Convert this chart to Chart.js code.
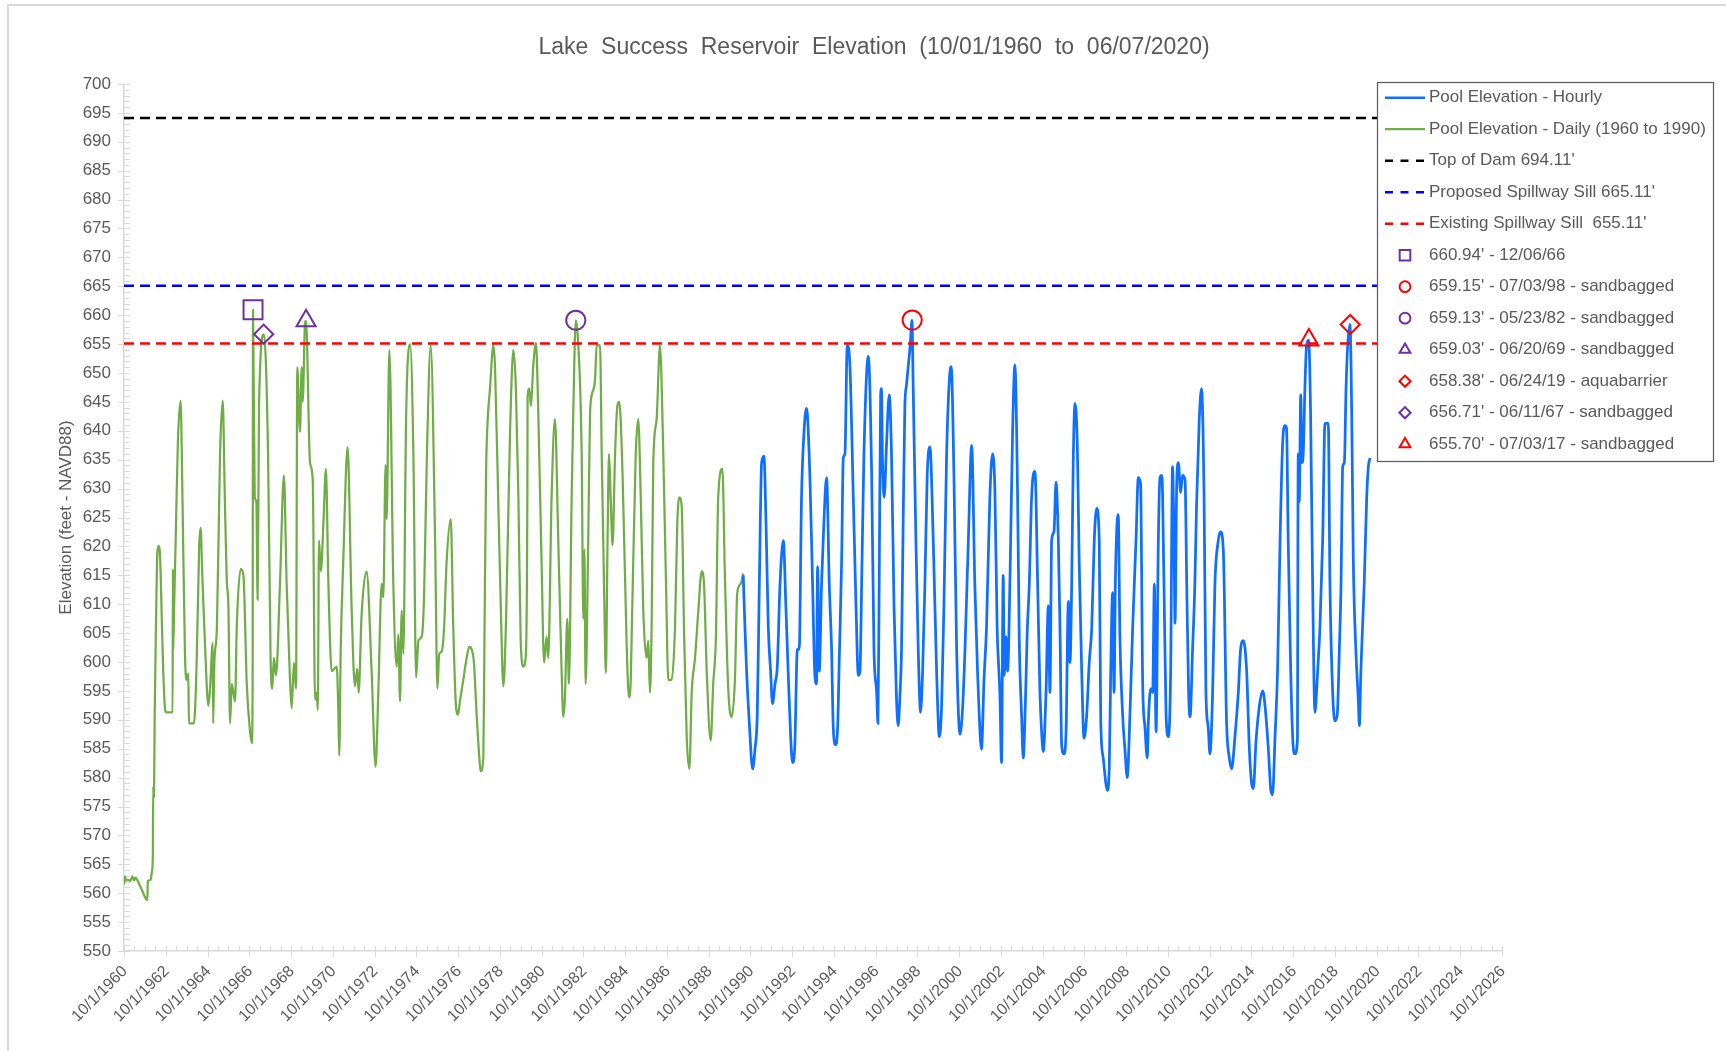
<!DOCTYPE html>
<html>
<head>
<meta charset="utf-8">
<title>Lake Success Reservoir Elevation</title>
<script src="https://cdn.jsdelivr.net/npm/chart.js@4.4.1/dist/chart.umd.min.js"></script>
<style>
  html, body { margin: 0; padding: 0; background: #fff; }
  #wrap { position: relative; width: 1726px; height: 1051px; overflow: hidden; }
  #frame { position: absolute; left: 7px; top: 4px; width: 1730px; height: 1060px; border: 2px solid #d9d9d9; pointer-events: none; }
  canvas { display: block; }
</style>
</head>
<body>
<div id="wrap">
  <canvas id="elevationChart" width="1726" height="1051"></canvas>
  <div id="frame"></div>
</div>
<script>
// x values are years since 10/1/1960 (first tick on the axis)
const START_YEAR = 1960;

// Daily record 1960 - 1990 (feet)
const dailyT = [
    0.00, 0.05, 0.10, 0.20, 0.30, 0.40, 0.48, 0.55, 0.65, 0.75,
    0.90, 1.05, 1.12, 1.14, 1.28, 1.33, 1.38, 1.40, 1.42, 1.44,
    1.47, 1.53, 1.60, 1.66, 1.73, 1.82, 1.88, 1.97, 2.05, 2.20,
    2.33, 2.34, 2.36, 2.40, 2.48, 2.58, 2.71, 2.80, 2.92, 3.00,
    3.08, 3.11, 3.25, 3.35, 3.48, 3.60, 3.67, 3.75, 3.88, 4.04,
    4.12, 4.25, 4.27, 4.33, 4.45, 4.60, 4.73, 4.82, 4.92, 5.00,
    5.08, 5.16, 5.32, 5.40, 5.59, 5.72, 5.88, 6.04, 6.12, 6.16,
    6.18, 6.26, 6.34, 6.40, 6.47, 6.70, 6.90, 7.02, 7.10, 7.18,
    7.28, 7.47, 7.66, 7.79, 7.95, 8.03, 8.14, 8.24, 8.30, 8.43,
    8.51, 8.56, 8.67, 8.72, 8.91, 9.04, 9.15, 9.23, 9.28, 9.34,
    9.43, 9.55, 9.67, 9.79, 9.95, 10.19, 10.27, 10.31, 10.38, 10.50,
    10.71, 10.90, 11.06, 11.17, 11.24, 11.38, 11.62, 11.86, 12.05, 12.18,
    12.34, 12.42, 12.53, 12.58, 12.71, 12.90, 13.06, 13.14, 13.22, 13.30,
    13.38, 13.51, 13.70, 13.86, 13.99, 14.10, 14.26, 14.37, 14.50, 14.69,
    14.90, 15.01, 15.10, 15.21, 15.33, 15.45, 15.65, 15.77, 15.90, 16.00,
    16.09, 16.25, 16.41, 16.54, 16.65, 16.76, 16.89, 17.02, 17.08, 17.21,
    17.26, 17.34, 17.40, 17.53, 17.69, 17.77, 17.93, 18.04, 18.17, 18.30,
    18.49, 18.65, 18.77, 18.89, 19.00, 19.13, 19.25, 19.32, 19.33, 19.41,
    19.49, 19.60, 19.73, 19.84, 20.00, 20.12, 20.24, 20.32, 20.48, 20.64,
    20.80, 20.96, 21.04, 21.12, 21.23, 21.31, 21.44, 21.52, 21.64, 21.76,
    21.92, 22.00, 22.05, 22.11, 22.24, 22.32, 22.43, 22.56, 22.64, 22.80,
    22.88, 22.99, 23.08, 23.16, 23.23, 23.31, 23.40, 23.52, 23.63, 23.72,
    23.88, 24.07, 24.15, 24.23, 24.35, 24.51, 24.63, 24.75, 24.87, 25.03,
    25.11, 25.19, 25.27, 25.35, 25.51, 25.67, 25.83, 25.96, 26.07, 26.23,
    26.39, 26.50, 26.60, 26.71, 26.82, 26.95, 27.08, 27.19, 27.35, 27.51,
    27.67, 27.78, 27.91, 28.10, 28.22, 28.35, 28.46, 28.66, 28.78, 28.94,
    29.10, 29.26, 29.37, 29.53, 29.66
];
const dailyElev = [
    561.5, 562.9, 562.2, 562.3, 562.1, 562.9, 562.2, 562.7, 562.2, 561.4,
    560.2, 559.0, 558.8, 562.1, 562.3, 563.6, 566.1, 578.5, 576.5, 578.0,
    590.9, 606.0, 619.1, 620.1, 618.0, 606.0, 598.4, 591.7, 591.3, 591.3,
    591.3, 616.1, 602.2, 609.3, 622.0, 638.0, 645.2, 628.5, 601.4, 596.9,
    598.0, 589.4, 589.4, 589.4, 599.9, 620.0, 623.2, 615.0, 603.0, 592.4,
    595.4, 603.3, 589.4, 600.0, 606.0, 636.0, 645.2, 630.0, 614.2, 609.7,
    589.4, 596.2, 593.2, 606.0, 616.1, 615.0, 596.2, 587.9, 586.0, 595.0,
    660.9, 628.5, 627.8, 610.8, 645.0, 656.7, 636.0, 600.7, 595.4, 600.7,
    597.7, 613.5, 632.3, 613.5, 596.9, 592.0, 599.9, 595.4, 651.0, 639.8,
    651.0, 645.0, 658.6, 659.0, 634.5, 631.5, 593.5, 594.7, 591.7, 621.0,
    615.7, 624.0, 633.4, 613.5, 598.4, 599.2, 590.9, 583.8, 602.2, 617.2,
    637.2, 609.7, 595.8, 598.8, 594.7, 608.2, 615.7, 598.4, 581.9, 594.7,
    613.5, 611.2, 634.1, 624.7, 654.0, 613.5, 599.2, 604.8, 593.2, 608.9,
    601.4, 642.0, 655.0, 636.0, 597.3, 603.7, 604.4, 611.2, 634.5, 654.8,
    621.0, 595.4, 601.4, 601.8, 605.9, 617.2, 624.7, 606.0, 592.4, 590.9,
    593.2, 596.9, 600.7, 602.6, 602.2, 599.9, 590.9, 583.4, 581.1, 583.4,
    602.2, 632.3, 640.5, 647.3, 654.8, 651.1, 627.0, 610.5, 595.8, 607.5,
    639.8, 654.0, 647.3, 628.5, 603.7, 599.2, 601.4, 630.0, 645.8, 647.3,
    644.3, 651.1, 655.2, 643.5, 617.2, 599.9, 604.4, 600.7, 628.5, 642.0,
    621.0, 598.4, 590.5, 593.9, 607.5, 596.2, 628.5, 643.5, 659.1, 654.8,
    636.0, 607.5, 619.5, 596.2, 622.5, 642.8, 646.6, 648.8, 654.8, 654.8,
    636.0, 613.5, 598.1, 621.0, 636.0, 628.5, 620.2, 636.0, 644.3, 645.0,
    632.3, 603.7, 595.4, 593.9, 610.5, 636.0, 642.0, 628.5, 609.0, 600.7,
    603.7, 594.7, 606.0, 634.5, 642.0, 654.8, 636.0, 613.5, 596.9, 596.9,
    606.0, 624.0, 628.5, 627.0, 606.0, 587.1, 581.5, 594.7, 600.7, 609.0,
    615.7, 613.5, 598.4, 586.4, 596.2, 604.4, 628.5, 633.4, 615.0, 595.4,
    590.5, 596.9, 611.9, 613.5, 615.3
];

// Hourly record 1990 - 2020 (feet)
const hourlyT = [
    29.66, 29.74, 29.82, 29.95, 30.11, 30.22, 30.33, 30.43, 30.54, 30.65,
    30.75, 30.86, 30.97, 31.06, 31.18, 31.29, 31.42, 31.58, 31.70, 31.81,
    31.93, 32.02, 32.13, 32.25, 32.34, 32.45, 32.57, 32.69, 32.85, 32.98,
    33.09, 33.17, 33.22, 33.30, 33.41, 33.52, 33.65, 33.78, 33.89, 33.97,
    34.08, 34.18, 34.26, 34.37, 34.45, 34.53, 34.64, 34.77, 34.93, 35.06,
    35.17, 35.25, 35.33, 35.44, 35.65, 35.81, 35.92, 36.05, 36.11, 36.17,
    36.24, 36.28, 36.33, 36.41, 36.52, 36.65, 36.76, 36.88, 37.00, 37.08,
    37.16, 37.24, 37.32, 37.40, 37.48, 37.56, 37.66, 37.74, 37.80, 37.93,
    38.04, 38.15, 38.25, 38.36, 38.47, 38.60, 38.76, 38.92, 39.05, 39.16,
    39.27, 39.40, 39.53, 39.62, 39.75, 39.88, 40.04, 40.16, 40.28, 40.44,
    40.60, 40.75, 40.88, 40.96, 41.07, 41.19, 41.31, 41.47, 41.60, 41.71,
    41.82, 41.95, 42.03, 42.11, 42.16, 42.24, 42.32, 42.43, 42.56, 42.67,
    42.80, 42.88, 42.99, 43.07, 43.18, 43.26, 43.36, 43.47, 43.63, 43.76,
    43.87, 43.95, 44.03, 44.16, 44.27, 44.35, 44.43, 44.54, 44.64, 44.75,
    44.83, 44.91, 45.02, 45.12, 45.23, 45.31, 45.39, 45.47, 45.55, 45.66,
    45.75, 45.87, 45.98, 46.11, 46.23, 46.35, 46.47, 46.59, 46.71, 46.78,
    46.90, 47.03, 47.10, 47.19, 47.26, 47.35, 47.42, 47.48, 47.62, 47.70,
    47.83, 47.94, 48.05, 48.18, 48.31, 48.47, 48.58, 48.69, 48.79, 48.90,
    49.01, 49.06, 49.17, 49.27, 49.35, 49.43, 49.54, 49.62, 49.71, 49.81,
    49.91, 50.02, 50.13, 50.22, 50.29, 50.34, 50.42, 50.50, 50.61, 50.70,
    50.82, 50.90, 50.99, 51.06, 51.18, 51.29, 51.37, 51.50, 51.61, 51.73,
    51.82, 51.93, 52.01, 52.14, 52.25, 52.41, 52.52, 52.65, 52.81, 52.94,
    53.05, 53.21, 53.37, 53.48, 53.61, 53.77, 53.90, 54.01, 54.09, 54.22,
    54.38, 54.54, 54.65, 54.81, 54.92, 55.01, 55.13, 55.25, 55.37, 55.49,
    55.60, 55.68, 55.76, 55.88, 56.00, 56.08, 56.20, 56.24, 56.29, 56.36,
    56.42, 56.48, 56.56, 56.64, 56.74, 56.83, 56.93, 57.04, 57.17, 57.28,
    57.41, 57.52, 57.68, 57.76, 57.89, 58.00, 58.11, 58.21, 58.29, 58.37,
    58.45, 58.53, 58.61, 58.72, 58.80, 58.88, 59.00, 59.12, 59.17, 59.24,
    59.32, 59.40, 59.52, 59.60, 59.68
];
const hourlyElev = [
    615.0, 606.0, 598.4, 589.4, 581.5, 584.9, 590.9, 613.5, 634.5, 635.6,
    624.0, 605.9, 598.4, 592.8, 596.2, 599.2, 613.5, 621.0, 609.7, 598.4,
    587.1, 582.6, 585.6, 602.2, 602.2, 628.5, 639.8, 643.9, 632.3, 613.5,
    597.7, 596.2, 616.5, 598.4, 613.5, 624.0, 631.9, 613.5, 602.2, 588.7,
    585.7, 588.7, 600.7, 617.2, 635.3, 636.0, 654.8, 651.1, 628.5, 609.7,
    597.7, 598.4, 613.5, 636.0, 652.9, 632.3, 602.2, 594.7, 589.4, 613.5,
    646.2, 647.3, 634.5, 628.5, 637.5, 646.2, 636.0, 609.7, 593.5, 589.0,
    593.9, 602.2, 624.7, 644.3, 648.0, 651.1, 655.0, 659.1, 647.3, 621.0,
    602.2, 591.3, 598.4, 613.5, 632.3, 637.2, 621.0, 598.4, 587.1, 592.4,
    609.7, 636.0, 648.8, 651.1, 632.3, 602.2, 587.5, 591.7, 602.2, 621.0,
    637.5, 613.5, 598.4, 590.9, 584.9, 596.9, 605.9, 628.5, 636.0, 630.0,
    605.9, 594.7, 582.6, 615.0, 597.7, 604.4, 598.4, 613.5, 639.8, 651.4,
    628.5, 603.7, 590.9, 583.4, 593.9, 605.2, 613.5, 628.5, 633.0, 613.5,
    594.7, 587.9, 584.5, 594.7, 609.7, 594.7, 621.0, 622.5, 631.1, 621.0,
    605.9, 585.6, 584.1, 587.9, 610.5, 599.9, 613.5, 636.0, 644.7, 637.5,
    617.2, 598.4, 586.8, 590.9, 599.9, 605.9, 621.0, 626.6, 621.0, 590.2,
    583.4, 578.9, 577.8, 581.9, 598.4, 612.0, 594.7, 613.5, 625.5, 604.4,
    590.9, 584.9, 580.0, 590.9, 605.9, 621.0, 631.9, 630.8, 596.2, 588.7,
    583.4, 589.4, 595.4, 594.7, 613.5, 587.9, 621.0, 631.9, 632.3, 613.5,
    590.9, 587.1, 598.4, 633.8, 621.0, 606.7, 630.8, 634.5, 629.3, 632.3,
    631.5, 613.5, 594.7, 590.5, 602.2, 613.5, 627.0, 642.0, 647.3, 628.5,
    594.7, 588.7, 584.1, 594.7, 613.5, 621.0, 622.5, 619.5, 589.4, 583.4,
    581.5, 587.1, 594.7, 602.2, 603.7, 598.4, 584.9, 578.9, 578.1, 586.4,
    592.4, 595.0, 592.4, 584.9, 578.1, 577.0, 587.1, 598.4, 621.0, 637.5,
    640.9, 640.5, 621.0, 598.4, 585.3, 584.1, 586.3, 636.0, 627.7, 646.2,
    634.5, 636.0, 647.3, 654.8, 655.7, 643.5, 613.5, 591.3, 598.4, 606.0,
    621.0, 641.3, 641.3, 613.5, 594.7, 589.8, 590.9, 602.2, 613.5, 633.8,
    634.5, 647.3, 654.8, 658.4, 643.5, 617.2, 602.2, 593.2, 589.0, 598.4,
    606.0, 613.5, 628.5, 633.8, 635.3
];

// reference levels, drawn across the whole axis
const axisSpan = [0, 66];
const topOfDam = 694.11;
const proposedSill = 665.11;
const existingSill = 655.11;

// record high pools
const peakLabels = [
    "660.94' - 12/06/66",
    "659.15' - 07/03/98 - sandbagged",
    "659.13' - 05/23/82 - sandbagged",
    "659.03' - 06/20/69 - sandbagged",
    "658.38' - 06/24/19 - aquabarrier",
    "656.71' - 06/11/67 - sandbagged",
    "655.70' - 07/03/17 - sandbagged"
];
const peakT = [6.18, 37.75, 21.64, 8.72, 58.73, 6.69, 56.75];
const peakElev = [660.94, 659.15, 659.13, 659.03, 658.38, 656.71, 655.70];
const peakShapes = ['rect', 'circle', 'circle', 'triangle', 'rectRot', 'rectRot', 'triangle'];
const peakColors = ['#7030A0', '#FF0000', '#7030A0', '#7030A0', '#FF0000', '#7030A0', '#FF0000'];

const TEXT = '#595959';
const AXIS = '#d9d9d9';
const markerRadius = { rect: 13.4, circle: 9.6, triangle: 11, rectRot: 9.6 };
const legendRadius = { rect: 7.5, circle: 5.4, triangle: 6.2, rectRot: 5.6 };

Chart.defaults.font.family = '"Liberation Sans", Arial, sans-serif';
Chart.defaults.color = TEXT;

function toPoints(xs, ys) {
    return xs.map((x, i) => ({ x: x, y: ys[i] }));
}

function levelLine(label, value, color) {
    return {
        label: label,
        data: toPoints(axisSpan, [value, value]),
        borderColor: color,
        borderWidth: 2.5,
        borderDash: [10, 6],
        pointRadius: 0,
        order: 1
    };
}

const datasets = [
    {
        label: 'Pool Elevation - Hourly',
        data: toPoints(hourlyT, hourlyElev),
        borderColor: '#0F6FFF',
        borderWidth: 2.75,
        pointRadius: 0,
        cubicInterpolationMode: 'monotone',
        order: 2
    },
    {
        label: 'Pool Elevation - Daily (1960 to 1990)',
        data: toPoints(dailyT, dailyElev),
        borderColor: '#70AD47',
        borderWidth: 2.25,
        pointRadius: 0,
        cubicInterpolationMode: 'monotone',
        order: 2
    },
    levelLine("Top of Dam 694.11'", topOfDam, '#000000'),
    levelLine("Proposed Spillway Sill 665.11'", proposedSill, '#0000FF'),
    levelLine("Existing Spillway Sill  655.11'", existingSill, '#FF0000')
];

peakLabels.forEach((label, i) => {
    datasets.push({
        label: label,
        data: [{ x: peakT[i], y: peakElev[i] }],
        showLine: false,
        pointStyle: peakShapes[i],
        pointRadius: markerRadius[peakShapes[i]],
        pointBorderWidth: 2,
        borderColor: peakColors[i],
        backgroundColor: 'rgba(0,0,0,0)',
        order: 0
    });
});

// Excel style tick marks: majors cross the axis, minors sit inside
const axisTicks = {
    id: 'axisTicks',
    beforeDatasetsDraw(chart) {
        const { ctx, chartArea, scales } = chart;
        const x = scales.x, y = scales.y;
        ctx.save();
        ctx.strokeStyle = AXIS;
        ctx.lineWidth = 1;
        ctx.beginPath();
        for (let i = 0; i <= (x.max - x.min) * 2; i++) {
            const v = x.min + i / 2;
            const px = Math.round(x.getPixelForValue(v)) + 0.5;
            ctx.moveTo(px, chartArea.bottom - 5);
            ctx.lineTo(px, chartArea.bottom + (i % 4 === 0 ? 6 : 0));
        }
        for (let v = y.min; v <= y.max; v++) {
            const py = Math.round(y.getPixelForValue(v)) + 0.5;
            ctx.moveTo(chartArea.left + 6, py);
            ctx.lineTo(chartArea.left - (v % 5 === 0 ? 6 : 0), py);
        }
        ctx.stroke();
        ctx.restore();
    }
};

// boxed legend laid over the top right of the plot
const boxLegend = {
    id: 'boxLegend',
    afterDraw(chart, args, opts) {
        const ctx = chart.ctx;
        ctx.save();
        ctx.fillStyle = '#fff';
        ctx.fillRect(opts.left, opts.top, opts.width, opts.height);
        ctx.strokeStyle = '#5f5f5f';
        ctx.lineWidth = 1.25;
        ctx.strokeRect(opts.left + 0.5, opts.top + 0.5, opts.width, opts.height);
        ctx.font = opts.fontSize + 'px ' + Chart.defaults.font.family;
        ctx.textBaseline = 'middle';
        chart.data.datasets.forEach((ds, i) => {
            const cy = opts.top + opts.firstRow + i * opts.rowGap;
            const x0 = opts.left + opts.sampleLeft;
            ctx.save();
            ctx.strokeStyle = ds.borderColor;
            if (ds.showLine === false) {
                ctx.lineWidth = 2;
                ctx.fillStyle = 'rgba(0,0,0,0)';
                Chart.helpers.drawPoint(ctx, {
                    pointStyle: ds.pointStyle,
                    radius: legendRadius[ds.pointStyle],
                    borderWidth: 2,
                    rotation: 0
                }, x0 + opts.sampleWidth / 2, cy);
            } else {
                ctx.lineWidth = Math.min(ds.borderWidth, 2.5);
                ctx.setLineDash(ds.borderDash ? [8, 7.5] : []);
                ctx.beginPath();
                ctx.moveTo(x0, cy);
                ctx.lineTo(x0 + opts.sampleWidth, cy);
                ctx.stroke();
            }
            ctx.restore();
            ctx.fillStyle = TEXT;
            ctx.fillText(ds.label, opts.left + opts.textLeft, cy);
        });
        ctx.restore();
    }
};

new Chart(document.getElementById('elevationChart'), {
    type: 'line',
    data: { datasets: datasets },
    options: {
        responsive: false,
        animation: false,
        events: [],
        devicePixelRatio: 1,
        layout: { padding: { left: 22, right: 0, top: 0, bottom: 0 } },
        elements: { line: { tension: 0 } },
        scales: {
            x: {
                type: 'linear',
                min: axisSpan[0],
                max: axisSpan[1],
                grid: { display: false, drawTicks: false },
                border: { display: true, color: AXIS, width: 1.5 },
                ticks: {
                    stepSize: 2,
                    autoSkip: false,
                    minRotation: 45,
                    maxRotation: 45,
                    padding: 11,
                    labelOffset: 1,
                    font: { size: 16 },
                    callback: value => '10/1/' + (START_YEAR + value)
                },
                afterFit: scale => { scale.height = 100; }
            },
            y: {
                type: 'linear',
                min: 550,
                max: 700,
                grid: { display: false, drawTicks: false },
                border: { display: true, color: AXIS, width: 1.5 },
                ticks: { stepSize: 5, padding: 13, font: { size: 17 } },
                title: {
                    display: true,
                    text: 'Elevation (feet - NAVD88)',
                    font: { size: 17 },
                    padding: { top: 34, bottom: 0 }
                },
                afterFit: scale => { scale.width = 102; }
            },
            // empty right margin so the title centres on the whole picture
            margin: {
                type: 'linear',
                position: 'right',
                display: true,
                grid: { display: false, drawTicks: false },
                border: { display: false },
                ticks: { display: false },
                afterFit: scale => { scale.width = 224; }
            }
        },
        plugins: {
            legend: { display: false },
            tooltip: { enabled: false },
            title: {
                display: true,
                text: 'Lake  Success  Reservoir  Elevation  (10/01/1960  to  06/07/2020)',
                color: TEXT,
                font: { size: 23, weight: 'normal' },
                padding: { top: 34, bottom: 22.4 }
            },
            boxLegend: {
                left: 1377, top: 82, width: 336, height: 379,
                firstRow: 15.7, rowGap: 31.5,
                sampleLeft: 8, sampleWidth: 40, textLeft: 52,
                fontSize: 17
            }
        }
    },
    plugins: [axisTicks, boxLegend]
});
</script>
</body>
</html>
